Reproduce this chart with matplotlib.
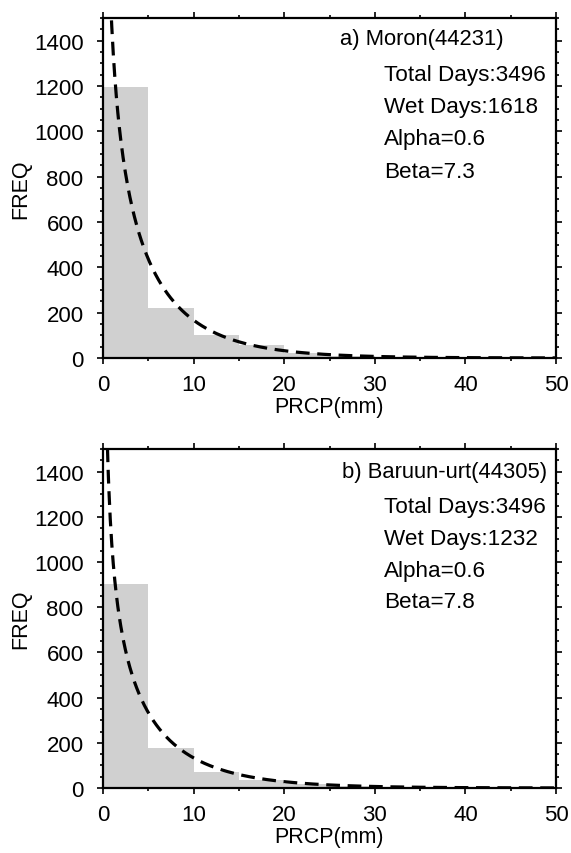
import math
import numpy as np
import matplotlib
matplotlib.use("Agg")
import matplotlib.pyplot as plt
from matplotlib.ticker import MultipleLocator

plt.rcParams['font.family'] = ['Liberation Sans', 'DejaVu Sans']

# bins of 5 mm
bin_left = [0, 5, 10, 15, 20, 25, 30, 35, 40, 45]
freq_a = [1197, 220, 103, 57, 21, 8, 4, 2, 1, 1]
freq_b = [901, 177, 72, 35, 18, 8, 4, 2, 1, 1]

titles = ["a) Moron(44231)", "b) Baruun-urt(44305)"]
total_days = [3496, 3496]
wet_days = [1618, 1232]
alpha = [0.6, 0.6]
beta = [7.3, 7.8]
bin_width = 5

W, H = 571, 854
fig = plt.figure(figsize=(W / 100, H / 100), dpi=100)

# panel boxes in pixels: left, top, right, bottom
boxes = [(103, 19, 556, 359), (103, 450, 556, 789)]
title_pos = [(504, 40), (547, 473)]
stats_y = [[75, 108, 140, 172], [507, 540, 572, 603]]

for k, freqs in enumerate([freq_a, freq_b]):
    l, t, r, b = boxes[k]
    ax = fig.add_axes([l / W, 1 - b / H, (r - l) / W, (b - t) / H])
    ax.bar(bin_left, freqs, width=bin_width, align='edge', color='#d0d0d0',
           edgecolor='none', zorder=1)

    x = np.linspace(0.05, 50, 600)
    a, bb = alpha[k], beta[k]
    pdf = x ** (a - 1) * np.exp(-x / bb) / (math.gamma(a) * bb ** a)
    ax.plot(x, wet_days[k] * bin_width * pdf, color='black', lw=2.3,
            dashes=(4.3, 2.4), zorder=2)

    ax.set_xlim(0, 50)
    ax.set_ylim(0, 1500)
    ax.xaxis.set_major_locator(MultipleLocator(10))
    ax.xaxis.set_minor_locator(MultipleLocator(5))
    ax.yaxis.set_major_locator(MultipleLocator(200))
    ax.yaxis.set_minor_locator(MultipleLocator(50))
    ax.tick_params(which='both', direction='out', top=True, right=True,
                   width=1.2, labelsize=16)
    ax.tick_params(which='major', length=4.5)
    ax.tick_params(which='minor', length=2.2)
    ax.tick_params(axis='y', which='major', pad=9.5)
    ax.tick_params(axis='x', which='major', pad=7)
    for s in ax.spines.values():
        s.set_linewidth(1.6)
    ax.set_xlabel("PRCP(mm)", fontsize=15.5, labelpad=1)
    ax.set_ylabel("FREQ", fontsize=15.5, labelpad=2)

    tx, ty = title_pos[k]
    fig.text(tx / W, 1 - ty / H, titles[k], fontsize=15.8, ha='right',
             va='center')
    lines = ["Total Days:%d" % total_days[k], "Wet Days:%d" % wet_days[k],
             "Alpha=%.1f" % alpha[k], "Beta=%.1f" % beta[k]]
    for txt, yy in zip(lines, stats_y[k]):
        fig.text(384 / W, 1 - yy / H, txt, fontsize=16.2, ha='left',
                 va='center')

fig.savefig("out.png", dpi=100)
